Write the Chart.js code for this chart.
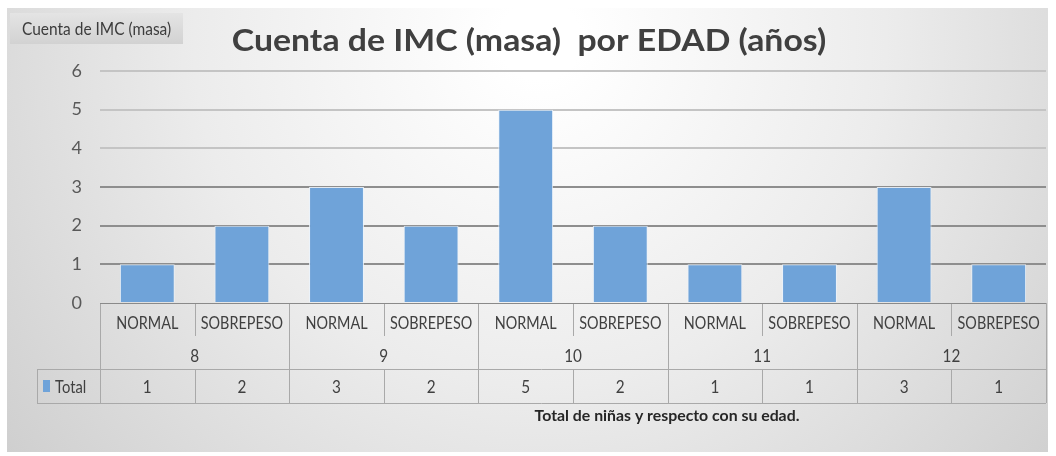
<!DOCTYPE html>
<html>
<head>
<meta charset="utf-8">
<script src="https://cdn.jsdelivr.net/npm/chart.js@4/dist/chart.umd.min.js"></script>
<style>
  html, body { margin: 0; padding: 0; background: #fff; }
  #chart { display: block; }
</style>
</head>
<body>
<canvas id="chart" width="1056" height="456"></canvas>
<script>
const categories = ['NORMAL', 'SOBREPESO', 'NORMAL', 'SOBREPESO', 'NORMAL', 'SOBREPESO', 'NORMAL', 'SOBREPESO', 'NORMAL', 'SOBREPESO'];
const ages = ['8', '9', '10', '11', '12'];
const totals = [1, 2, 3, 2, 5, 2, 1, 1, 3, 1];
const yTicks = [0, 1, 2, 3, 4, 5, 6];
const seriesName = 'Total';
const titleText = 'Cuenta de IMC (masa)  por EDAD (años)';
const fieldButton = 'Cuenta de IMC (masa)';
const footNote = 'Total de niñas y respecto con su edad.';

const FONT = 'Lato, "Open Sans", sans-serif';
const BLUE = '#6fa3d9';
const LINE = '#a9a9a9';

// draws text squeezed or stretched horizontally to match the original's proportions
function narrowText(ctx, text, x, y, font, squeeze, align) {
  ctx.save();
  ctx.font = font;
  ctx.textBaseline = 'middle';
  ctx.textAlign = align || 'center';
  ctx.translate(x, y);
  ctx.scale(squeeze, 1);
  ctx.fillText(text, 0, 0);
  ctx.restore();
}

const backdrop = {
  id: 'backdrop',
  beforeDraw(chart) {
    const ctx = chart.ctx;
    ctx.save();
    ctx.fillStyle = '#ffffff';
    ctx.fillRect(0, 0, chart.width, chart.height);
    const g = ctx.createRadialGradient(540, 40, 40, 540, 40, 720);
    g.addColorStop(0, '#ffffff');
    g.addColorStop(0.45, '#ececec');
    g.addColorStop(1, '#cbcbcb');
    ctx.fillStyle = g;
    ctx.fillRect(7, 8, 1041, 444);

    // field button top-left
    const bg = ctx.createLinearGradient(0, 13, 0, 44);
    bg.addColorStop(0, '#e4e4e4');
    bg.addColorStop(1, '#d2d2d2');
    ctx.fillStyle = bg;
    ctx.fillRect(10, 13, 173, 31);
    ctx.fillStyle = '#3c3c3c';
    narrowText(ctx, fieldButton, 22, 30, '17px ' + FONT, 0.91, 'left');

    // title
    ctx.fillStyle = '#404040';
    narrowText(ctx, titleText, 529, 41, 'bold 31px ' + FONT, 1.09, 'center');

    // footnote
    ctx.fillStyle = '#262626';
    narrowText(ctx, footNote, 667, 416, 'bold 16px ' + FONT, 0.99, 'center');
    ctx.restore();
  }
};

const dataTable = {
  id: 'dataTable',
  afterDraw(chart) {
    const ctx = chart.ctx;
    const x = chart.scales.x;
    const area = chart.chartArea;
    const n = categories.length;
    const step = (area.right - area.left) / n;
    const edge = i => area.left + step * i;
    const top = area.bottom, row1 = top + 39, row2 = row1 + 27, row3 = row2 + 34;
    const legendLeft = 37;
    const cellFont = '18px ' + FONT;

    ctx.save();
    ctx.strokeStyle = LINE;
    ctx.lineWidth = 1;
    ctx.beginPath();
    // horizontal rules
    ctx.moveTo(legendLeft, row2 + 0.5); ctx.lineTo(area.right, row2 + 0.5);
    ctx.moveTo(legendLeft, row3 + 0.5); ctx.lineTo(area.right, row3 + 0.5);
    ctx.moveTo(legendLeft + 0.5, row2); ctx.lineTo(legendLeft + 0.5, row3);
    for (let i = 0; i <= n; i++) {
      const px = Math.round(edge(i)) + 0.5;
      if (i % 2 === 0) {
        ctx.moveTo(px, top); ctx.lineTo(px, row3);
      } else {
        ctx.moveTo(px, top); ctx.lineTo(px, top + 33);
        ctx.moveTo(px, row2); ctx.lineTo(px, row3);
      }
    }
    ctx.stroke();

    // axis line
    ctx.strokeStyle = '#8a8a8a';
    ctx.beginPath();
    ctx.moveTo(area.left, top + 0.5); ctx.lineTo(area.right, top + 0.5);
    ctx.stroke();

    ctx.fillStyle = '#404040';
    categories.forEach((c, i) => {
      const cx = x.getPixelForValue(i);
      narrowText(ctx, c, cx, top + 20, cellFont, 0.8, 'center');
      narrowText(ctx, String(totals[i]), cx, row2 + 18, cellFont, 0.85, 'center');
    });
    ages.forEach((a, j) => {
      const cx = (edge(j * 2) + edge(j * 2 + 2)) / 2;
      narrowText(ctx, a, cx, row1 + 14, cellFont, 0.85, 'center');
    });

    // legend key
    ctx.fillStyle = BLUE;
    ctx.fillRect(43, row2 + 11, 7, 12);
    ctx.fillStyle = '#404040';
    narrowText(ctx, seriesName, 55, row2 + 18, cellFont, 0.82, 'left');
    ctx.restore();
  }
};

new Chart(document.getElementById('chart'), {
  type: 'bar',
  data: {
    labels: categories,
    datasets: [{
      label: seriesName,
      data: totals,
      backgroundColor: BLUE,
      borderColor: 'rgba(235,243,252,0.9)',
      borderWidth: 1,
      categoryPercentage: 1,
      barPercentage: 0.58
    }]
  },
  options: {
    responsive: false,
    animation: false,
    layout: { padding: { top: 71, right: 10, bottom: 153, left: 0 } },
    plugins: {
      legend: { display: false },
      title: { display: false },
      tooltip: { enabled: false }
    },
    scales: {
      x: { display: false },
      y: {
        min: 0,
        max: yTicks[yTicks.length - 1],
        afterBuildTicks: axis => { axis.ticks = yTicks.map(v => ({ value: v })); },
        afterFit: axis => { axis.width = 100; },
        border: { display: false },
        grid: {
          drawTicks: false,
          lineWidth: 2,
          color: ctx => ctx.tick.value === 0 ? 'rgba(0,0,0,0)' : (ctx.tick.value <= 3 ? '#8e8e8e' : '#c4c4c4')
        },
        ticks: {
          padding: 18,
          color: '#595959',
          font: { family: FONT, size: 18 }
        }
      }
    }
  },
  plugins: [backdrop, dataTable]
});
</script>
</body>
</html>
